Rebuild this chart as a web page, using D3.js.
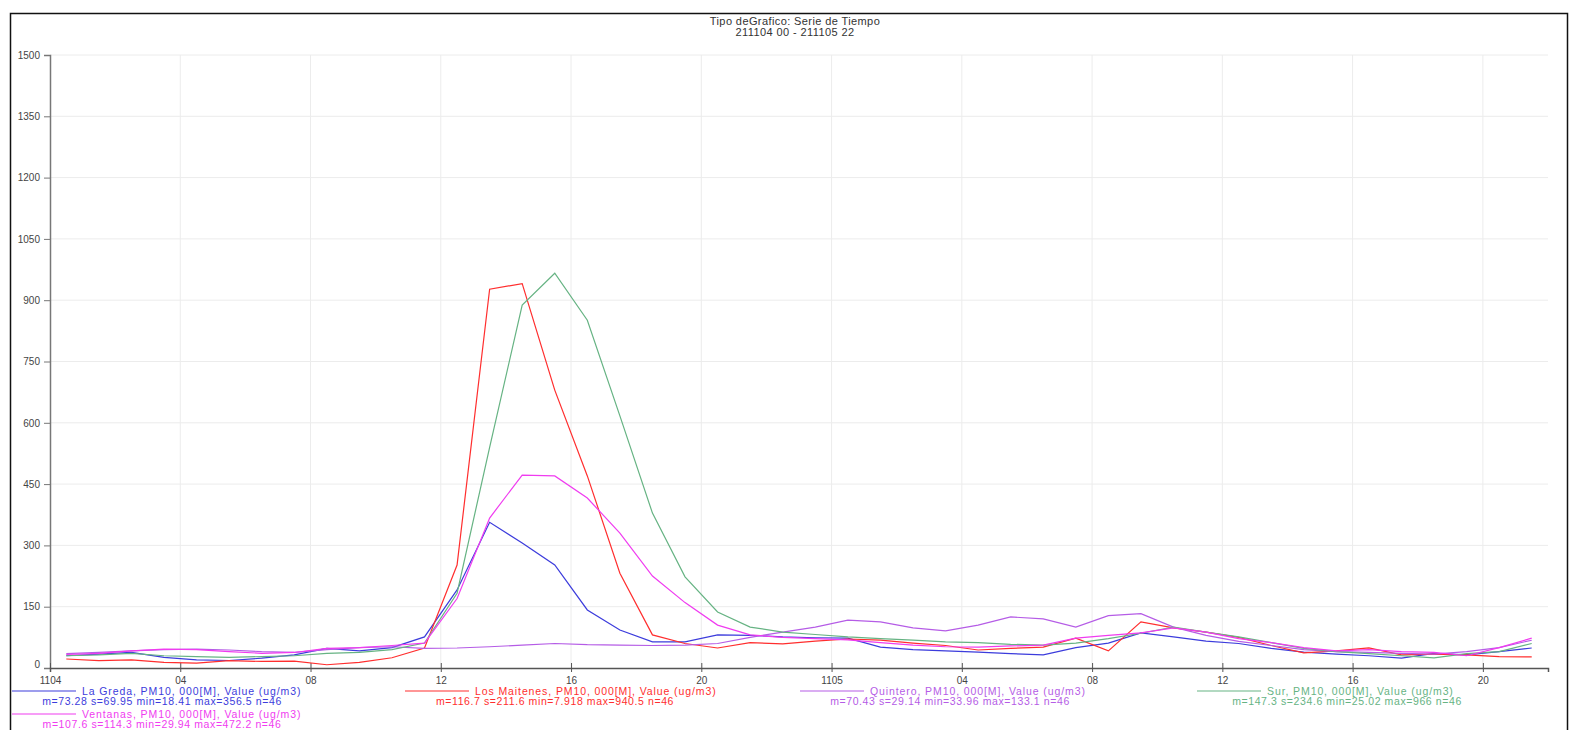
<!DOCTYPE html>
<meta charset="utf-8">
<script src="https://d3js.org/d3.v7.min.js"></script>
<style>
  body { margin: 0; background: #fff; }
  text { font-family: "Liberation Sans", Arial, sans-serif; }
</style>
<div id="vis"></div>
<script type="text/javascript">

var title = ["Tipo deGrafico: Serie de Tiempo", "211104 00 - 211105 22"];

var yTicks = [0, 150, 300, 450, 600, 750, 900, 1050, 1200, 1350, 1500];
var xTicks = [0, 4, 8, 12, 16, 20, 24, 28, 32, 36, 40, 44];
var xTickLabels = ["1104", "04", "08", "12", "16", "20", "1105", "04", "08", "12", "16", "20"];

var laGreda = [30, 34, 38, 26, 20, 18.4, 24, 32, 48, 42, 50, 76, 191, 356.5, 306, 252, 142, 93, 64, 64,
  81, 80, 76, 74, 73, 51, 45, 42, 39, 35, 32, 50, 61, 86, 76, 66, 60, 48, 39, 34, 30, 24, 36, 32, 40, 49];
var losMaitenes = [22, 18, 20, 14, 12, 18, 16, 17, 7.9, 14, 25, 49, 252, 927, 940.5, 680, 470, 232, 81, 60,
  49, 62, 59, 66, 71, 68, 61, 55, 44, 48, 51, 73, 42, 113, 98, 88, 75, 55, 37, 42, 49, 32, 34, 32, 28, 27];
var quintero = [35, 38, 42, 45, 46, 44, 40, 38, 45, 50, 52, 48, 49, 52, 56, 60, 57, 56, 55, 56,
  60, 75, 88, 100, 117, 113, 98, 91, 105, 125, 120, 100, 128, 133.1, 100, 80, 65, 55, 45, 40, 38, 36, 34, 40, 50, 68];
var sur = [30, 32, 36, 30, 28, 26, 28, 30, 36, 38, 45, 61, 183, 540, 888, 966, 851, 617, 379, 223,
  137, 100, 88, 82, 76, 72, 68, 64, 62, 58, 56, 61, 72, 85, 100, 88, 76, 62, 48, 40, 35, 30, 25, 35, 40, 60];
var ventanas = [33, 36, 42, 46, 45, 40, 36, 38, 48, 50, 55, 61, 170, 367, 472.2, 470, 416, 330, 225, 160,
  105, 81, 75, 72, 69, 62, 56, 52, 51, 54, 56, 73, 80, 86, 98, 88, 72, 62, 50, 42, 45, 40, 38, 30, 50, 73];

var names = ["La Greda", "Los Maitenes", "Quintero", "Sur", "Ventanas"];
var stats = [
  "m=73.28 s=69.95 min=18.41 max=356.5 n=46",
  "m=116.7 s=211.6 min=7.918 max=940.5 n=46",
  "m=70.43 s=29.14 min=33.96 max=133.1 n=46",
  "m=147.3 s=234.6 min=25.02 max=966 n=46",
  "m=107.6 s=114.3 min=29.94 max=472.2 n=46"
];
var colors = ["#3c3cdc", "#ff2e2e", "#b55ce6", "#66b383", "#f03cf0"];
var series = [laGreda, losMaitenes, quintero, sur, ventanas];

var W = 1570, H = 730;
var plot = {left: 50, right: 1548, top: 55, bottom: 668};

var svg = d3.select("#vis")
  .append("svg")
    .attr("width", W)
    .attr("height", H);

// frame
svg.append("rect")
  .attr("x", 10.5)
  .attr("y", 13.5)
  .attr("width", W - 13)
  .attr("height", H)
  .attr("fill", "none")
  .attr("stroke", "#111")
  .attr("stroke-width", 1.5);

svg.selectAll(".title").data(title)
  .enter().append("text")
    .attr("x", 795)
    .attr("y", (d, i) => 25 + i * 11)
    .attr("text-anchor", "middle")
    .style("font-size", "11px")
    .style("letter-spacing", "0.4px")
    .attr("fill", "#333")
    .text(d => d);

var x = d3.scaleLinear()
  .domain([0, 46])
  .range([plot.left, plot.right]);

var y = d3.scaleLinear()
  .domain([0, 1500])
  .range([plot.bottom, plot.top]);

// grid
svg.append("g").selectAll("line").data(yTicks.slice(1))
  .enter().append("line")
    .attr("x1", plot.left)
    .attr("x2", plot.right)
    .attr("y1", d => y(d))
    .attr("y2", d => y(d))
    .attr("stroke", "#ececec");

svg.append("g").selectAll("line").data(xTicks.slice(1))
  .enter().append("line")
    .attr("x1", d => x(d))
    .attr("x2", d => x(d))
    .attr("y1", plot.top)
    .attr("y2", plot.bottom)
    .attr("stroke", "#ececec");

// y axis
var yAxis = svg.append("g")
  .attr("transform", "translate(" + plot.left + ",0)")
  .call(d3.axisLeft(y).tickValues(yTicks).tickSize(6).tickPadding(4).tickFormat(d3.format("d")));
yAxis.select(".domain").attr("stroke", "#777").attr("stroke-width", 1.5);
yAxis.selectAll(".tick line").attr("stroke", "#777");
yAxis.selectAll(".tick text")
  .attr("fill", "#444")
  .style("font-size", "10px")
  .style("font-family", "'Liberation Sans', Arial, sans-serif");
yAxis.selectAll(".tick").filter(d => d === 0).select("text").attr("dy", "-0.05em");

// x axis
var xAxis = svg.append("g")
  .attr("transform", "translate(0," + plot.bottom + ")")
  .call(d3.axisBottom(x).tickValues(xTicks).tickSize(4).tickPadding(5)
    .tickFormat((d, i) => xTickLabels[i]));
xAxis.select(".domain").attr("stroke", "#555").attr("stroke-width", 1.5);
xAxis.selectAll(".tick line").attr("stroke", "#555").attr("y1", -5);
xAxis.selectAll(".tick text")
  .attr("fill", "#444")
  .style("font-size", "10px")
  .style("font-family", "'Liberation Sans', Arial, sans-serif");

// lines
var line = d3.line()
  .x((d, i) => x(i + 0.5))
  .y(d => y(d));

svg.append("g").selectAll("path").data(series)
  .enter().append("path")
    .attr("d", d => line(d))
    .attr("fill", "none")
    .attr("stroke", (d, i) => colors[i])
    .attr("stroke-width", 1.2);

// legend
var legendPos = [
  {x: 12, y: 691}, {x: 405, y: 691}, {x: 800, y: 691}, {x: 1197, y: 691}, {x: 12, y: 714}
];

var legend = svg.append("g").selectAll("g").data(names)
  .enter().append("g")
    .attr("transform", (d, i) => "translate(" + legendPos[i].x + "," + legendPos[i].y + ")");

legend.append("line")
  .attr("x1", 0)
  .attr("x2", 64)
  .attr("y1", 0)
  .attr("y2", 0)
  .attr("stroke", (d, i) => colors[i])
  .attr("stroke-width", 1.2);

legend.append("text")
  .attr("x", 70)
  .attr("y", 3.5)
  .attr("fill", (d, i) => colors[i])
  .style("font-size", "10.5px")
  .style("letter-spacing", "0.9px")
  .text(d => d + ", PM10, 000[M], Value (ug/m3)");

legend.append("text")
  .attr("x", 150)
  .attr("y", 13.5)
  .attr("text-anchor", "middle")
  .attr("fill", (d, i) => colors[i])
  .style("font-size", "10.5px")
  .style("letter-spacing", "0.6px")
  .text((d, i) => stats[i]);

</script>
